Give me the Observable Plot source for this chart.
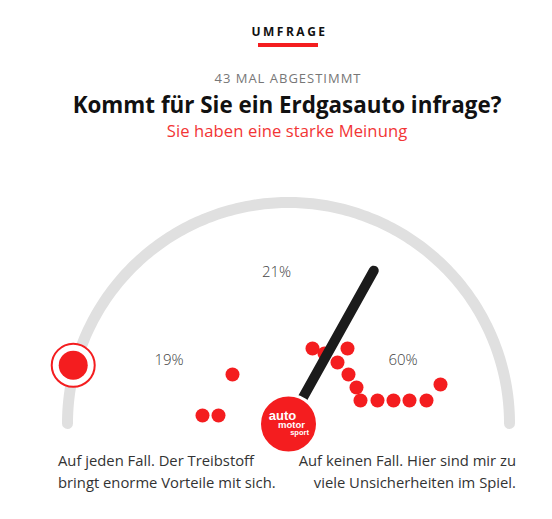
<!DOCTYPE html>
<html>
<head>
<meta charset="utf-8">
<script src="https://cdn.jsdelivr.net/npm/d3@7"></script>
<script src="https://cdn.jsdelivr.net/npm/@observablehq/plot@0.6"></script>
<style>
  html, body { margin: 0; padding: 0; background: #fff; }
  #wrap { position: relative; width: 552px; height: 519px; overflow: hidden; font-family: "Open Sans", sans-serif; }
  .abs { position: absolute; left: 0; width: 574px; text-align: center; white-space: nowrap; }
  #kicker { top: 26px; font-size: 12px; line-height: 12px; font-weight: 700; letter-spacing: 2.5px; padding-left: 2.5px; color: #111; }
  #bar { position: absolute; left: 258px; top: 43px; width: 60px; height: 4px; background: #f41d1f; }
  #votes { top: 72px; font-size: 13px; line-height: 13px; letter-spacing: 1px; padding-left: 1px; color: #777; }
  #title { top: 94px; font-size: 22.4px; line-height: 22px; font-weight: 700; color: #111; }
  #subtitle { top: 123px; font-size: 16.6px; line-height: 16px; letter-spacing: 0.1px; color: #f23535; }
  #chart { position: absolute; left: 0; top: 150px; }
  .foot { position: absolute; top: 449px; font-size: 14.8px; line-height: 22px; color: #333; white-space: nowrap; }
  #footL { left: 58px; text-align: left; }
  #footR { right: 36px; text-align: right; }
</style>
</head>
<body>
<div id="wrap">
  <div class="abs" id="kicker"></div>
  <div id="bar"></div>
  <div class="abs" id="votes"></div>
  <div class="abs" id="title"></div>
  <div class="abs" id="subtitle"></div>
  <div id="chart"></div>
  <div class="foot" id="footL"></div>
  <div class="foot" id="footR"></div>
</div>
<script>
// ---- data ----
const kicker = "UMFRAGE";
const votesText = "43 MAL ABGESTIMMT";
const titleText = "Kommt für Sie ein Erdgasauto infrage?";
const subtitleText = "Sie haben eine starke Meinung";
const answerLeft = ["Auf jeden Fall. Der Treibstoff", "bringt enorme Vorteile mit sich."];
const answerRight = ["Auf keinen Fall. Hier sind mir zu", "viele Unsicherheiten im Spiel."];

// share labels
const shareLabels = ["19%", "21%", "60%"];
const shareX = [-119.5, -12, 114.5];
const shareY = [63, 151, 63];

// individual votes (dots), relative to gauge centre
const voteX = [-56, -86, -70, 24, 36, 59, 49, 60, 68, 72, 89, 105, 121, 138, 152];
const voteY = [49, 8, 8, 75, 70, 75, 61, 49, 36, 23, 23, 23, 23, 23, 39];

// gauge values on a 0 (left) .. 100 (right) scale
const needleValue = [66.2];
const markerValue = [8.4];

// logo words
const logoWords = ["auto", "motor", "sport"];

// ---- layout ----
document.getElementById("kicker").textContent = kicker;
document.getElementById("votes").textContent = votesText;
document.getElementById("title").textContent = titleText;
document.getElementById("subtitle").textContent = subtitleText;
document.getElementById("footL").innerHTML = answerLeft.join("<br>");
document.getElementById("footR").innerHTML = answerRight.join("<br>");

const R = 221, needleLen = 175;
const ang = v => Math.PI * (1 - v / 100);
const red = "#f41d1f";

const arcPts = d3.range(0, 100.01, 0.5).map(v => ({x: R * Math.cos(ang(v)), y: R * Math.sin(ang(v))}));
const votes = voteX.map((x, i) => ({x, y: voteY[i]}));
const shares = shareLabels.map((t, i) => ({t, x: shareX[i], y: shareY[i]}));
const needle = needleValue.map(v => ({x2: needleLen * Math.cos(ang(v)), y2: needleLen * Math.sin(ang(v))}));
const marker = markerValue.map(v => ({x: (R + 2) * Math.cos(ang(v)), y: (R + 2) * Math.sin(ang(v))}));
const logo = [
  {t: logoWords[0], x: -6, y: 7.5, size: 13},
  {t: logoWords[1], x: 3, y: -1.5, size: 9.5},
  {t: logoWords[2], x: 11, y: -9, size: 7.5}
];

const chart = Plot.plot({
  width: 552,
  height: 305,
  margin: 0,
  x: {domain: [-288, 264], axis: null},
  y: {domain: [-32, 273], axis: null},
  style: {overflow: "visible", background: "transparent"},
  marks: [
    Plot.line(arcPts, {x: "x", y: "y", stroke: "#e0e0e0", strokeWidth: 11, curve: "linear"}),
    Plot.text(shares, {x: "x", y: "y", text: "t", fontSize: 15, fill: "#444", fontFamily: "Open Sans", fontWeight: 300}),
    Plot.dot(votes, {x: "x", y: "y", r: 7, fill: red}),
    Plot.link(needle, {x1: 0, y1: 0, x2: "x2", y2: "y2", stroke: "#1b1b1b", strokeWidth: 10, strokeLinecap: "round"}),
    Plot.dot([0], {x: 0, y: -0.5, r: 29, fill: red, stroke: "white", strokeWidth: 3}),
    Plot.text(logo, {x: "x", y: "y", text: "t", fontSize: "size", fill: "white", fontWeight: 900, fontFamily: "Liberation Sans", textAnchor: "middle", lineHeight: 0.9}),
    Plot.dot(marker, {x: "x", y: "y", r: 21.5, fill: "white", stroke: red, strokeWidth: 2}),
    Plot.dot(marker, {x: "x", y: "y", r: 14.5, fill: red})
  ]
});
document.getElementById("chart").appendChild(chart);
</script>
</body>
</html>
